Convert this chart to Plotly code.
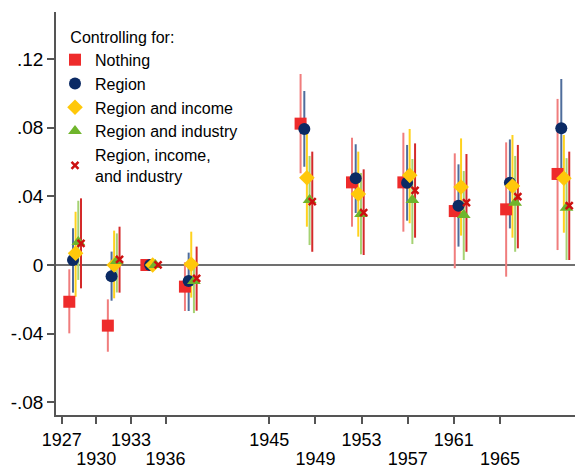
import numpy as np
import plotly.graph_objects as go

# survey years and the five specifications
years = [1927, 1930, 1933, 1936, 1945, 1949, 1953, 1957, 1961, 1965]
row1_years = [1927, 1933, 1945, 1953, 1961]
row2_years = [1930, 1936, 1949, 1957, 1965]

nothing_est = [-0.0214, -0.0353, 0.0, -0.0126, 0.0823, 0.0481, 0.0481, 0.0314, 0.0324, 0.0530]
nothing_lo = [-0.0398, -0.0505, 0.0, -0.0268, 0.0534, 0.0223, 0.0194, -0.0019, -0.0068, 0.0087]
nothing_hi = [-0.0025, -0.0200, 0.0, 0.0016, 0.1112, 0.0741, 0.0770, 0.0650, 0.0714, 0.0967]

region_est = [0.0029, -0.0066, 0.0, -0.0093, 0.0792, 0.0505, 0.0479, 0.0345, 0.0479, 0.0796]
region_lo = [-0.0161, -0.0208, 0.0, -0.0268, 0.0572, 0.0303, 0.0258, 0.0107, 0.0213, 0.0510]
region_hi = [0.0214, 0.0078, 0.0, 0.0072, 0.1013, 0.0703, 0.0699, 0.0586, 0.0731, 0.1083]

income_est = [0.0068, 0.0, 0.0, 0.0004, 0.0508, 0.0413, 0.0522, 0.0454, 0.0460, 0.0505]
income_lo = [-0.0185, -0.0194, 0.0, -0.0190, 0.0223, 0.0165, 0.0243, 0.0171, 0.0159, 0.0188]
income_hi = [0.0310, 0.0200, 0.0, 0.0194, 0.0770, 0.0660, 0.0792, 0.0737, 0.0757, 0.0757]

industry_est = [0.0134, 0.0023, 0.0, -0.0093, 0.0378, 0.0297, 0.0378, 0.0291, 0.0363, 0.0333]
industry_lo = [-0.0087, -0.0160, 0.0, -0.0280, 0.0116, 0.0062, 0.0122, 0.0029, 0.0077, 0.0029]
industry_hi = [0.0374, 0.0184, 0.0, 0.0029, 0.0635, 0.0536, 0.0617, 0.0547, 0.0635, 0.0622]

all_est = [0.0126, 0.0033, 0.0, -0.0078, 0.0369, 0.0305, 0.0435, 0.0363, 0.0398, 0.0345]
all_lo = [-0.0136, -0.0161, 0.0, -0.0266, 0.0077, 0.0058, 0.0159, 0.0077, 0.0097, 0.0029]
all_hi = [0.0388, 0.0223, 0.0, 0.0107, 0.0660, 0.0557, 0.0708, 0.0646, 0.0699, 0.0660]

ytick_vals = [-0.08, -0.04, 0, 0.04, 0.08, 0.12]
ytick_text = ["-.08", "-.04", "0", ".04", ".08", ".12"]

FONT = "Liberation Sans, Arial, sans-serif"
AXIS = "#555555"

series = [
    # name, est, lo, hi, offset, symbol, size, marker colour, bar colour
    ("Nothing", nothing_est, nothing_lo, nothing_hi, 0.0, "square", 12, "#ee2b2b", "#f07d7d"),
    ("Region", region_est, region_lo, region_hi, 0.29, "circle", 12, "#0b2a64", "#4f6d9c"),
    ("Region and income", income_est, income_lo, income_hi, 0.49, "diamond", 12, "#ffc80a", "#ffd21e"),
    ("Region and industry", industry_est, industry_lo, industry_hi, 0.70, "triangle-up", 12, "#6fb52c", "#a5d273"),
    ("Region, income,<br>and industry", all_est, all_lo, all_hi, 0.91, "x-thin", 7, "#cc1010", "#d42a2a"),
]

fig = go.Figure()

# confidence intervals first, so every marker sits on top of every spike
for name, est, lo, hi, off, sym, size, mcol, bcol in series:
    est = np.array(est)
    fig.add_trace(go.Scatter(
        x=np.array(years) + off, y=est, mode="markers",
        marker=dict(size=1, opacity=0),
        error_y=dict(type="data", symmetric=False,
                     array=np.array(hi) - est, arrayminus=est - np.array(lo),
                     color=bcol, thickness=2, width=0),
        showlegend=False, hoverinfo="skip"))

for name, est, lo, hi, off, sym, size, mcol, bcol in series:
    if sym == "x-thin":
        marker = dict(symbol=sym, size=size, line=dict(color=mcol, width=2.5))
    else:
        marker = dict(symbol=sym, size=size, color=mcol, line=dict(width=0))
    fig.add_trace(go.Scatter(
        x=np.array(years) + off, y=est, mode="markers", name=name,
        marker=marker))

# empty traces so the two tick-label axes get drawn
for ax in ["x2", "x3"]:
    fig.add_trace(go.Scatter(x=[], y=[], xaxis=ax, yaxis="y",
                             showlegend=False, hoverinfo="skip"))

# page body has an 8px default margin, so the figure is shifted by 8px
fig.update_layout(
    width=583, height=468,
    margin=dict(l=48, r=8, t=4, b=61, autoexpand=False),
    paper_bgcolor="white", plot_bgcolor="white",
    font=dict(family=FONT, color="black"),
    showlegend=True,
    legend=dict(xref="container", yref="container", x=47 / 583, y=1 - 14 / 468,
                xanchor="left", yanchor="top", bgcolor="rgba(0,0,0,0)",
                font=dict(size=16),
                title=dict(text="\u00a0\u00a0\u00a0Controlling for:",
                           font=dict(size=16))),
    xaxis=dict(range=[1925.965, 1966.98], showticklabels=False, ticks="",
               showline=True, linecolor=AXIS, linewidth=1.5,
               showgrid=False, zeroline=False),
    xaxis2=dict(overlaying="x", anchor="y", side="bottom",
                range=[1926.506, 1972.197],
                tickvals=years,
                ticktext=[str(y) if y in row1_years else "" for y in years],
                ticks="outside", ticklen=8, tickwidth=1.5, tickcolor=AXIS,
                tickfont=dict(size=18), showline=False, showgrid=False,
                zeroline=False),
    xaxis3=dict(overlaying="x", anchor="y", side="bottom",
                range=[1926.506, 1972.197],
                tickvals=row2_years, ticktext=[str(y) for y in row2_years],
                ticks="outside", ticklen=8, tickcolor="rgba(0,0,0,0)",
                ticklabelstandoff=19,
                tickfont=dict(size=18), showline=False, showgrid=False,
                zeroline=False),
    yaxis=dict(range=[-0.08734, 0.1473], tickvals=ytick_vals, ticktext=ytick_text,
               ticks="outside", ticklen=7, tickwidth=1.5, tickcolor=AXIS,
               tickfont=dict(size=19), showline=True, linecolor=AXIS,
               linewidth=1.5, showgrid=False, zeroline=True,
               zerolinecolor="#707070", zerolinewidth=1.5),
)

fig.write_html("out.html")
